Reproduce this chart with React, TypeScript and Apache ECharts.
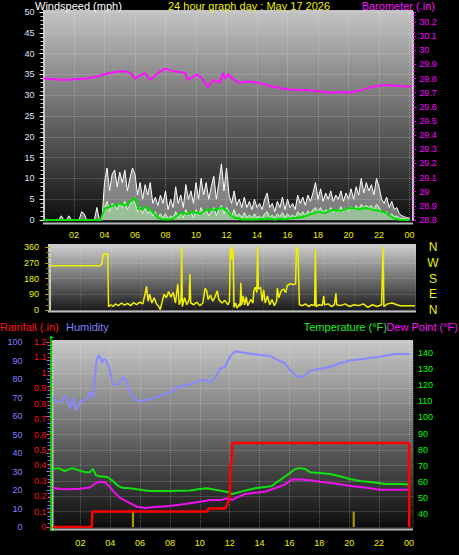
import React, { useEffect, useRef } from 'react';
import * as echarts from 'echarts';

const FONT = 'Liberation Sans, Arial, sans-serif';

// ---------- Wind (mph), 10-minute samples from 00:00 ----------
const WIND_STEP_H = 1 / 6;
const gustMph = [
  0, 0, 0, 0, 0, 0, 0, 1, 0, 0, 1, 0, 0, 0, 0, 2, 1.5, 0, 0, 0, 0, 3, 0, 0,
  9, 12.5, 7, 11, 12, 8, 11.5, 9, 12, 7, 10, 12.5, 11, 6, 9, 5, 8.5, 6, 9, 4,
  5.5, 3.5, 6, 4, 7, 2.5, 5, 3, 8, 4, 6, 3, 8.5, 5, 7, 4, 9, 5, 10, 6,
  9, 5, 8, 10.5, 5, 9, 13.5, 7, 12.5,
  6, 4, 7, 3.5, 5, 3, 5.5, 3, 4.5, 2.5, 5, 3, 4, 2.5, 5, 6.5, 3, 4,
  2, 4.5, 3, 5.5, 2.5, 5, 3, 4, 2.5, 6, 4, 5.5, 3.5, 6, 4.5, 6.5, 9, 5,
  7.5, 4.5, 6.5, 5, 7, 4.5, 6, 5, 7, 4.5, 6.5, 5, 7.5, 5, 8, 6, 10, 6.5,
  9, 7, 8.5, 6, 10, 8, 5, 4, 5.5, 3, 4.5, 2.5, 3, 1.5, 1, 0.8, 0.5, 0.5,
];
const speedMph = [
  0, 0, 0, 0, 0, 0, 0, 0, 0, 0, 0, 0, 0, 0, 0, 0, 0, 0, 0, 0, 0, 0, 0, 0,
  3, 4.5, 2, 4, 3.5, 2.5, 4, 3, 4.5, 2.5, 3.5, 5, 4, 2, 3, 1.5, 3, 1.5, 2.5, 1,
  2, 0.5, 1.5, 0.5, 1.5, 0.3, 1, 0.5, 2, 0.5, 1.5, 0.5, 2.5, 1, 2, 0.5, 2.5, 1, 3, 1.5,
  2.5, 1, 2, 3, 1, 2.5, 3.5, 1.5, 3,
  2, 1, 2.5, 0.8, 1.5, 0.5, 1.8, 0.6, 1.2, 0.4, 1.5, 0.5, 1, 0.4, 1.5, 2, 0.6, 1.2,
  0.4, 1.5, 0.8, 1.8, 0.5, 1.5, 0.8, 1.2, 0.6, 2, 1.2, 2, 1, 2.2, 1.5, 2.5, 3, 2,
  3, 1.8, 2.5, 2, 3, 1.8, 2.5, 2, 3.2, 2, 2.8, 2.2, 3.2, 2.5, 3.5, 2.5, 3.8, 3,
  3.5, 3, 3.5, 2.5, 3.8, 3, 2, 1.5, 2, 1, 1.5, 0.8, 1, 0.5, 0.4, 0.3, 0.2, 0.2,
];
const AVG_STEP_H = 0.25;
const avgMph = [
  0, 0, 0, 0, 0, 0, 0, 0, 0, 0, 0, 0, 0, 0, 0, 0,
  2.8, 3.0, 3.4, 3.6, 4.0, 3.5, 3.8, 4.6, 5.3, 2.6, 2.8, 3.1, 2.4, 1.6, 0.6, 0.2,
  0.1, 0.1, 0.3, 1.0, 1.7, 1.6, 1.4, 2.0, 1.8, 1.4, 2.0, 2.6, 2.5, 2.4, 2.7, 2.9, 2.3,
  1.2, 0.6, 0.4, 0.2, 0.1, 0.1, 0.2, 0.1, 0.3, 0.2, 0.4, 0.2, 0.1, 0.3, 0.2, 0.3,
  0.4, 0.5, 0.6, 0.8, 1.0, 1.4, 1.6, 2.0, 1.8, 1.7, 2.2, 2.4, 2.3, 2.2, 2.5, 2.8,
  2.9, 2.7, 2.6, 2.9, 2.8, 2.5, 2.4, 2.2, 1.9, 1.6, 0.9, 0.4, 0.1, 0, 0, 0,
];

// ---------- Barometer (in) [hour, value] ----------
const baroIn = [
  [0, 29.8], [0.7, 29.795], [1.41, 29.79], [2.1, 29.795], [2.85, 29.8], [3.3, 29.81], [3.7, 29.82],
  [4.3, 29.84], [4.89, 29.85], [5.48, 29.85], [5.8, 29.83], [6.0, 29.8], [6.3, 29.82], [6.66, 29.84],
  [6.98, 29.79], [7.3, 29.82], [7.64, 29.85], [7.97, 29.87], [8.3, 29.86], [8.62, 29.85], [9.0, 29.845],
  [9.28, 29.84], [9.45, 29.79], [9.61, 29.8], [10.07, 29.83], [10.4, 29.8], [10.59, 29.77], [10.79, 29.74],
  [11.11, 29.79], [11.4, 29.78], [11.57, 29.77], [11.77, 29.84], [11.9, 29.8], [12.1, 29.83], [12.4, 29.8],
  [12.82, 29.77], [13.48, 29.78], [14.1, 29.77], [14.79, 29.75], [15.64, 29.73], [16.4, 29.72], [17.21, 29.72],
  [18.0, 29.71], [18.72, 29.7], [19.4, 29.705], [20.03, 29.7], [20.89, 29.72], [21.5, 29.74], [22.0, 29.75],
  [22.5, 29.755], [23.11, 29.75], [23.6, 29.745], [24.1, 29.745],
];

// ---------- Wind direction (deg) [hour, value] ----------
const windDirDeg = [
  [0, 253], [3.3, 253], [3.4, 262], [3.5, 318], [3.8, 320], [3.83, 320], [3.85, 19], [4.0, 30], [4.15, 20],
  [4.3, 35], [4.5, 25], [4.7, 40], [4.9, 28], [5.1, 38], [5.3, 25], [5.5, 42], [5.7, 30], [5.9, 45],
  [6.1, 35], [6.25, 90], [6.35, 135], [6.45, 50], [6.55, 90], [6.7, 40], [6.85, 70], [7.0, 35], [7.15, 20],
  [7.25, 2], [7.35, 40], [7.5, 90], [7.65, 70], [7.8, 105], [7.95, 75], [8.1, 100], [8.25, 40], [8.4, 150],
  [8.5, 30], [8.62, 60], [8.66, 360], [8.7, 20], [8.85, 70], [9.0, 30], [9.15, 60], [9.2, 205], [9.25, 40],
  [9.45, 30], [9.65, 45], [9.85, 25], [10.05, 40], [10.2, 125], [10.3, 110], [10.4, 60], [10.55, 85],
  [10.7, 50], [10.85, 75], [11.0, 110], [11.1, 60], [11.3, 40], [11.5, 55], [11.7, 30], [11.8, 50],
  [11.85, 330], [11.9, 360], [11.95, 290], [12.0, 350], [12.05, 300], [12.1, 15], [12.2, 40], [12.3, 10],
  [12.45, 35], [12.5, 20], [12.55, 155], [12.6, 30], [12.7, 80], [12.8, 30], [12.9, 75], [13.0, 25],
  [13.2, 60], [13.35, 40], [13.4, 110], [13.5, 130], [13.6, 100], [13.65, 360], [13.7, 120], [13.85, 130],
  [13.95, 50], [14.05, 115], [14.15, 40], [14.3, 80], [14.45, 30], [14.6, 60], [14.75, 25], [14.9, 50],
  [14.95, 125], [15.05, 70], [15.2, 110], [15.35, 120], [15.5, 100], [15.6, 140], [15.8, 150], [16.0, 145],
  [16.15, 150], [16.2, 360], [16.3, 350], [16.4, 30], [16.6, 25], [16.8, 35], [17.0, 20], [17.2, 30],
  [17.4, 25], [17.45, 345], [17.5, 20], [17.7, 30], [17.9, 25], [18.0, 80], [18.05, 30], [18.3, 35],
  [18.5, 20], [18.7, 30], [18.8, 95], [18.85, 30], [19.1, 25], [19.4, 35], [19.7, 20], [20.0, 30],
  [20.3, 25], [20.6, 35], [20.9, 15], [21.2, 30], [21.5, 20], [21.8, 30], [21.9, 360], [21.95, 20],
  [22.2, 35], [22.5, 40], [22.8, 30], [23.0, 25], [24.0, 25],
];

// ---------- Humidity (%) [hour, value] ----------
const humidityPct = [
  [0.17, 70], [0.44, 67.5], [0.77, 68], [0.97, 71], [1.17, 67.5], [1.3, 64], [1.5, 70], [1.7, 63],
  [1.97, 67.5], [2.3, 69], [2.5, 70], [2.64, 73], [2.84, 70], [2.98, 82], [3.11, 91], [3.25, 93],
  [3.45, 89], [3.58, 91], [3.71, 90], [3.92, 86.5], [4.05, 82], [4.18, 77], [4.52, 77], [4.85, 81],
  [5.05, 79.5], [5.32, 72.5], [5.66, 69], [5.99, 68], [6.66, 69], [7.33, 71], [8.0, 73], [8.67, 76],
  [9.34, 77], [10.0, 79], [10.34, 79.5], [10.68, 78], [11.01, 80.5], [11.35, 85.5], [11.68, 86.5],
  [11.95, 91], [12.15, 93.5], [12.42, 95], [13.02, 94], [14.02, 93], [14.69, 92.5], [15.03, 91],
  [15.7, 88.5], [16.03, 85], [16.5, 81.5], [16.9, 81], [17.37, 84.5], [18.04, 85.5], [18.71, 86.5],
  [19.38, 88.5], [20.05, 90], [21.05, 91], [22.05, 92], [23.06, 93.5], [24.06, 93.5],
];

// ---------- Rainfall (in) [hour, value] ----------
const rainIn = [
  [0.17, 0], [2.76, 0], [2.8, 0.1], [10.5, 0.1], [10.58, 0.12], [11.7, 0.12], [11.9, 0.16], [12.0, 0.2],
  [12.05, 0.41], [12.12, 0.43], [12.16, 0.545], [24.0, 0.545], [24.02, 0],
];
const rainRateIn = [[5.52, 0.1], [20.3, 0.1]];

// ---------- Temperature / Dew point (°F) [hour, value] ----------
const tempF = [
  [0.17, 68], [0.5, 68.5], [0.97, 66.7], [1.44, 68.5], [1.84, 67.3], [2.31, 66], [2.64, 66], [2.84, 68],
  [3.05, 64], [3.31, 63.5], [3.78, 63], [4.12, 61], [4.45, 58], [4.79, 56.3], [5.32, 56], [5.99, 55],
  [6.66, 54.3], [8.0, 54.3], [9.34, 54.6], [10.0, 55.5], [10.47, 56], [11.01, 55], [11.68, 54],
  [11.95, 53.5], [12.15, 52.4], [12.42, 53], [13.02, 54.5], [13.69, 56], [14.36, 56.7], [14.83, 57.4],
  [15.03, 59], [15.36, 61], [16.03, 65.5], [16.37, 68], [16.7, 68.5], [17.04, 68], [17.37, 66],
  [18.04, 65.5], [18.71, 64.8], [19.38, 63.5], [20.05, 61.7], [20.72, 60.5], [21.72, 59.5],
  [22.39, 58.6], [23.39, 58.6], [24.06, 58.3],
];
const dewF = [
  [0.17, 56.3], [0.64, 55.5], [1.3, 55.3], [1.97, 55.7], [2.64, 56.5], [2.98, 59], [3.31, 60],
  [3.65, 59.5], [3.98, 56.7], [4.32, 53], [4.65, 50], [4.99, 48.3], [5.32, 46.8], [5.79, 44.5],
  [6.33, 43.7], [7.0, 44.3], [8.0, 45], [9.0, 46.2], [10.0, 47.6], [10.68, 48.7], [11.35, 48.7],
  [11.95, 49.9], [12.15, 48.7], [12.42, 50], [13.02, 52.4], [13.69, 53.2], [14.36, 53.8], [15.03, 56],
  [15.7, 58.4], [16.16, 61.5], [16.7, 61.5], [17.37, 61], [18.04, 60], [19.04, 59], [20.05, 57.4],
  [21.05, 56.5], [22.05, 55], [23.39, 55], [24.06, 55],
];

const compassLabels = ['N', 'W', 'S', 'E', 'N'];
const compassDeg = [360, 270, 180, 90, 0];

const hourFmt = (v: number) => {
  const h = Math.round(v);
  if (Math.abs(v - h) > 1e-6 || h === 0 || h % 2 !== 0) return '';
  return String(h % 24).padStart(2, '0');
};
const decFmt = (v: number) => String(Math.round(v * 10) / 10);

const grad = (a: string, b: string) =>
  new echarts.graphic.LinearGradient(0, 0, 0, 1, [
    { offset: 0, color: a },
    { offset: 1, color: b },
  ]);

const gridLine = { show: true, lineStyle: { color: 'rgba(255,255,255,0.28)', type: 'dotted', width: 1 } };

export default function App() {
  const ref = useRef<HTMLDivElement>(null);

  useEffect(() => {
    if (!ref.current) return;
    const chart = echarts.init(ref.current, undefined, { renderer: 'svg' });

    const lbl = (color: string, extra: any = {}) => ({ color, fontSize: 9, fontFamily: FONT, ...extra });

    const option: any = {
      animation: false,
      backgroundColor: '#000',
      textStyle: { fontFamily: FONT },
      grid: [
        { left: 43.5, top: 12, width: 369.7, height: 208 },
        { left: 50, top: 247, width: 365, height: 63 },
        { left: 50.5, top: 342, width: 362.5, height: 185 },
        { left: 50.5, top: 336.9, width: 362.5, height: 193.2 },
      ],
      xAxis: [
        {
          gridIndex: 0, type: 'value', min: 0, max: 24.24, interval: 2,
          axisLine: { show: false }, axisTick: { show: false },
          axisLabel: lbl('#f0f000', { formatter: hourFmt, margin: 10.5 }),
          splitLine: gridLine,
        },
        {
          gridIndex: 1, type: 'value', min: 0, max: 24, interval: 2,
          axisLine: { show: false }, axisTick: { show: false }, axisLabel: { show: false },
          splitLine: { show: true, lineStyle: { color: 'rgba(255,255,255,0.15)', type: 'dotted' } },
        },
        {
          gridIndex: 2, type: 'value', min: 0, max: 24.27, interval: 2,
          axisLine: { show: false }, axisTick: { show: false },
          axisLabel: lbl('#f0f000', { formatter: hourFmt, margin: 11 }),
          splitLine: gridLine,
        },
        {
          gridIndex: 3, type: 'value', min: 0, max: 24.27, interval: 2, show: false,
        },
      ],
      yAxis: [
        {
          gridIndex: 0, type: 'value', position: 'left', min: 0, max: 50, interval: 5,
          axisLine: { show: true, lineStyle: { color: '#c8c8c8', width: 2 } },
          axisTick: { show: true, length: 4, lineStyle: { color: '#ffffff' } },
          minorTick: { show: true, splitNumber: 5, length: 3, lineStyle: { color: '#d8d8d8' } },
          axisLabel: lbl('#dce6ff', { margin: 9 }),
          splitLine: gridLine,
        },
        {
          gridIndex: 0, type: 'value', position: 'right', min: 28.8, max: 30.271, interval: 0.1,
          axisLine: { show: true, lineStyle: { color: '#c8c8c8', width: 2 } },
          axisTick: { show: true, length: 3, lineStyle: { color: '#ff00ff' } },
          minorTick: { show: true, splitNumber: 4, length: 2, lineStyle: { color: '#ff00ff' } },
          axisLabel: lbl('#ff00ff', { margin: 6, formatter: decFmt, showMaxLabel: false }),
          splitLine: { show: false },
        },
        {
          gridIndex: 1, type: 'value', position: 'left', min: 0, max: 360, interval: 90,
          axisLine: { show: true, lineStyle: { color: '#c8c8c8', width: 2 } },
          axisTick: { show: true, length: 5, lineStyle: { color: '#b0a000' } },
          minorTick: { show: true, splitNumber: 3, length: 4, lineStyle: { color: '#908000' } },
          axisLabel: lbl('#f0f000', { margin: 11 }),
          splitLine: { show: true, lineStyle: { color: 'rgba(255,255,255,0.2)', type: 'dotted' } },
        },
        {
          gridIndex: 2, type: 'value', position: 'left', offset: 21, min: 0, max: 100, interval: 10,
          axisLine: { show: true, lineStyle: { color: '#6868ff', width: 2 } },
          axisTick: { show: true, length: 4, lineStyle: { color: '#8080ff' } },
          minorTick: { show: true, splitNumber: 5, length: 3, lineStyle: { color: '#7070ff' } },
          axisLabel: lbl('#8080ff', { margin: 7 }),
          splitLine: { show: false },
        },
        {
          gridIndex: 2, type: 'value', position: 'left', min: 0, max: 1.2, interval: 0.1,
          axisLine: { show: true, lineStyle: { color: '#ff2020', width: 2, type: 'dotted' } },
          axisTick: { show: true, length: 2, lineStyle: { color: '#ff0000' } },
          axisLabel: lbl('#ff1010', { margin: 4, formatter: decFmt }),
          splitLine: gridLine,
        },
        {
          gridIndex: 3, type: 'value', position: 'right', min: 30, max: 150, interval: 10,
          axisLine: { show: true, lineStyle: { color: '#00d000', width: 2, type: 'dotted' } },
          axisTick: { show: true, length: 3, lineStyle: { color: '#00ff00' } },
          minorTick: { show: true, splitNumber: 5, length: 2, lineStyle: { color: '#00c000' } },
          axisLabel: lbl('#00ff00', {
            margin: 5,
            formatter: (v: number) => (v <= 30 || v >= 150 ? '' : String(v)),
          }),
          splitLine: { show: false },
        },
      ],
      series: [
        {
          type: 'line', xAxisIndex: 0, yAxisIndex: 0, symbol: 'none', z: 2,
          data: gustMph.map((v, i) => [i * WIND_STEP_H, v]),
          lineStyle: { color: '#ffffff', width: 1 },
          areaStyle: { color: 'rgba(225,225,225,0.72)' },
        },
        {
          type: 'line', xAxisIndex: 0, yAxisIndex: 0, symbol: 'none', z: 3,
          data: speedMph.map((v, i) => [i * WIND_STEP_H, v]),
          lineStyle: { color: '#c8ffc8', width: 1 },
          areaStyle: { color: 'rgba(175,235,175,0.85)' },
        },
        {
          type: 'line', xAxisIndex: 0, yAxisIndex: 0, symbol: 'none', z: 4,
          data: avgMph.map((v, i) => [i * AVG_STEP_H, v]),
          lineStyle: { color: '#00e000', width: 2 },
        },
        {
          type: 'line', xAxisIndex: 0, yAxisIndex: 1, symbol: 'none', z: 5,
          data: baroIn,
          lineStyle: { color: '#ff10ff', width: 2 },
        },
        {
          type: 'line', xAxisIndex: 1, yAxisIndex: 2, symbol: 'none', z: 3,
          data: windDirDeg,
          lineStyle: { color: '#f0f000', width: 1.5 },
        },
        {
          type: 'line', xAxisIndex: 2, yAxisIndex: 3, symbol: 'none', z: 3,
          data: humidityPct,
          lineStyle: { color: '#8888ff', width: 2 },
        },
        {
          type: 'bar', xAxisIndex: 2, yAxisIndex: 4, barWidth: 2, z: 3,
          data: rainRateIn,
          itemStyle: { color: '#b0a000' },
        },
        {
          type: 'line', xAxisIndex: 3, yAxisIndex: 5, symbol: 'none', z: 3,
          data: tempF,
          lineStyle: { color: '#10e010', width: 2 },
        },
        {
          type: 'line', xAxisIndex: 3, yAxisIndex: 5, symbol: 'none', z: 4,
          data: dewF,
          lineStyle: { color: '#ee10ee', width: 2 },
        },
        {
          type: 'line', xAxisIndex: 2, yAxisIndex: 4, symbol: 'none', z: 5,
          data: rainIn,
          lineStyle: { color: '#ff0000', width: 2.5 },
        },
      ],
      graphic: [
        { type: 'rect', z: -10, silent: true, shape: { x: 43, y: 10, width: 370, height: 214 }, style: { fill: grad('#c4c4c4', '#0c0c0c') } },
        { type: 'rect', z: -10, silent: true, shape: { x: 48, y: 244, width: 368, height: 68 }, style: { fill: grad('#d0d0d0', '#161616') } },
        { type: 'rect', z: -10, silent: true, shape: { x: 51, y: 340, width: 362, height: 190 }, style: { fill: grad('#c8c8c8', '#0a0a0a') } },
        { type: 'rect', z: -9, silent: true, shape: { x: 43, y: 222.5, width: 370, height: 2 }, style: { fill: '#b8b8b8' } },
        { type: 'rect', z: -9, silent: true, shape: { x: 48, y: 310.5, width: 368, height: 2 }, style: { fill: '#c0c0c0' } },
        { type: 'rect', z: -9, silent: true, shape: { x: 51, y: 528.5, width: 362, height: 2 }, style: { fill: '#b8b8b8' } },
        { type: 'rect', z: -9, silent: true, shape: { x: 51, y: 340, width: 2.5, height: 190 }, style: { fill: '#c8c8c8' } },
        { type: 'text', z: 100, x: 35, y: 6, style: { text: 'Windspeed (mph)', fill: '#ffffff', font: `11px ${FONT}`, textVerticalAlign: 'middle' } },
        { type: 'text', z: 100, x: 249, y: 6, style: { text: '24 hour graph day : May 17 2026', fill: '#f0f000', font: `11px ${FONT}`, textAlign: 'center', textVerticalAlign: 'middle' } },
        { type: 'text', z: 100, x: 435, y: 6, style: { text: 'Barometer (.in)', fill: '#ff10ff', font: `11px ${FONT}`, textAlign: 'right', textVerticalAlign: 'middle' } },
        { type: 'text', z: 100, x: 0, y: 327, style: { text: 'Rainfall (.in)', fill: '#ff1010', font: `11px ${FONT}`, textVerticalAlign: 'middle' } },
        { type: 'text', z: 100, x: 66, y: 327, style: { text: 'Humidity', fill: '#8080ff', font: `11px ${FONT}`, textVerticalAlign: 'middle' } },
        { type: 'text', z: 100, x: 387, y: 327, style: { text: 'Temperature (°F)', fill: '#20ee20', font: `11px ${FONT}`, textAlign: 'right', textVerticalAlign: 'middle' } },
        { type: 'text', z: 100, x: 458, y: 327, style: { text: 'Dew Point (°F)', fill: '#ff10ff', font: `11px ${FONT}`, textAlign: 'right', textVerticalAlign: 'middle' } },
        ...compassLabels.map((t, i) => ({
          type: 'text', z: 100, x: 433, y: 310 - (compassDeg[i] / 360) * 63,
          style: { text: t, fill: '#f0f000', font: `12px ${FONT}`, textAlign: 'center', textVerticalAlign: 'middle' },
        })),
      ],
    };

    chart.setOption(option);
    return () => chart.dispose();
  }, []);

  return (
    <div style={{ position: 'fixed', left: 0, top: 0, width: 459, height: 555, background: '#000' }}>
      <div ref={ref} style={{ width: 459, height: 555 }} />
    </div>
  );
}
